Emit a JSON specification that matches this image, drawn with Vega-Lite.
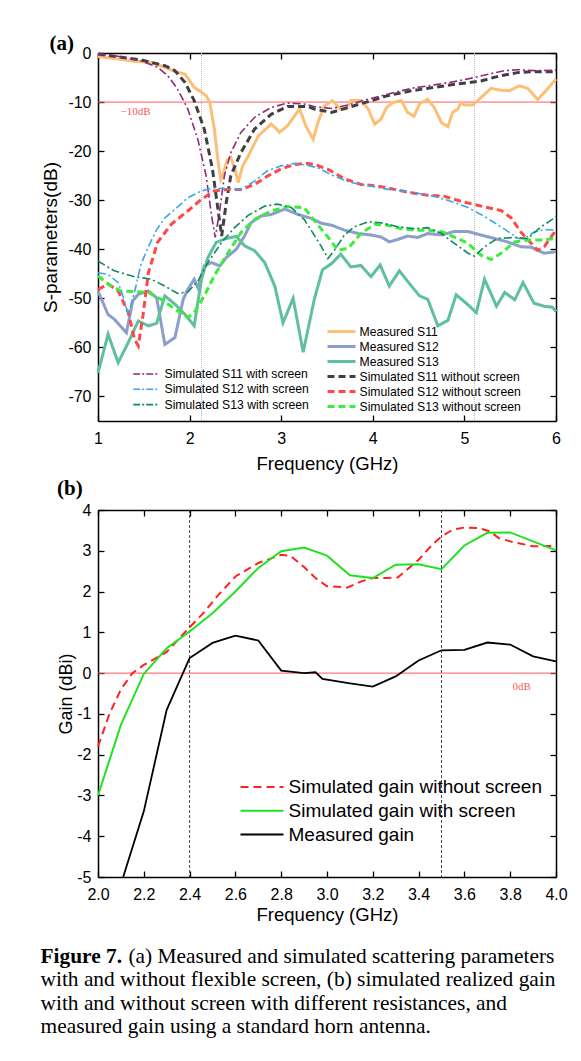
{
  "$schema": "https://vega.github.io/schema/vega-lite/v6.json",
  "background": "white",
  "padding": {"left": 40, "top": 33, "right": 5, "bottom": 5},
  "spacing": 5,
  "resolve": {"scale": {"color": "independent", "stroke": "independent"}, "legend": {"color": "independent", "stroke": "independent"}},
  "config": {
    "view": {"stroke": null},
    "font": "Liberation Sans",
    "axis": {"grid": false, "domainColor": "black", "domainWidth": 1.5, "tickColor": "black", "tickWidth": 1.3, "tickSize": -6, "labelFontSize": 16, "labelColor": "black", "labelFont": "Liberation Sans", "titleFont": "Liberation Sans", "titleFontWeight": "normal", "titleColor": "black", "labelFlush": false, "labelOverlap": false, "labelExpr": "replace(datum.label, '−', '-')"},
    "legend": {"labelFont": "Liberation Sans", "labelColor": "black", "padding": 0, "symbolType": "stroke", "title": null, "labelLimit": 0},
    "title": {"font": "Liberation Serif", "fontSize": 21, "fontWeight": "bold", "anchor": "start", "color": "black", "baseline": "alphabetic", "frame": "group"}
  },
  "vconcat": [
    {
      "width": 458, "height": 368,
      "title": {"text": "(a)", "dx": -48.5, "offset": -9, "frame": "group"},
      "layer": [
        {
          "data": {"values": [{"f": 2.13}, {"f": 5.11}]},
          "mark": {"type": "rule", "color": "#bdbdbd", "strokeWidth": 1, "strokeDash": [1, 1]},
          "encoding": {"x": {"field": "f", "type": "quantitative", "scale": {"domain": [1, 6], "nice": false, "zero": false}, "axis": {"orient": "top", "labels": false, "title": null, "values": [1, 2, 3, 4, 5, 6]}}}
        },
        {
          "data": {"values": [{"level": -10}]},
          "mark": {"type": "rule", "color": "#ff5a5a", "strokeWidth": 1},
          "encoding": {"y": {"field": "level", "type": "quantitative", "scale": {"domain": [-75, 0], "nice": false, "zero": false}, "axis": {"orient": "right", "labels": false, "title": null, "values": [-70, -60, -50, -40, -30, -20, -10, 0]}}}
        },
        {
          "data": {"values": [{"f": 1.41, "v": -12.1, "label": "−10dB"}]},
          "mark": {"type": "text", "font": "Liberation Serif", "fontSize": 11, "color": "#ff5a5a"},
          "encoding": {"x": {"field": "f", "type": "quantitative", "axis": null}, "y": {"field": "v", "type": "quantitative", "axis": null}, "text": {"field": "label"}}
        },
        {
          "data": {"values": [
            {"s":"Measured S11","f":1.0,"v":-0.7},{"s":"Measured S11","f":1.2,"v":-1.2},{"s":"Measured S11","f":1.4,"v":-1.7},{"s":"Measured S11","f":1.58,"v":-1.9},{"s":"Measured S11","f":1.73,"v":-2.9},{"s":"Measured S11","f":1.84,"v":-3.8},{"s":"Measured S11","f":1.95,"v":-4.3},{"s":"Measured S11","f":2.05,"v":-7},{"s":"Measured S11","f":2.13,"v":-8},{"s":"Measured S11","f":2.18,"v":-8.7},{"s":"Measured S11","f":2.22,"v":-10},{"s":"Measured S11","f":2.27,"v":-15.5},{"s":"Measured S11","f":2.31,"v":-22},{"s":"Measured S11","f":2.34,"v":-25.8},{"s":"Measured S11","f":2.37,"v":-24.5},{"s":"Measured S11","f":2.41,"v":-21.8},{"s":"Measured S11","f":2.45,"v":-21.3},{"s":"Measured S11","f":2.5,"v":-24},{"s":"Measured S11","f":2.53,"v":-26.4},{"s":"Measured S11","f":2.58,"v":-23},{"s":"Measured S11","f":2.64,"v":-21},{"s":"Measured S11","f":2.75,"v":-16.9},{"s":"Measured S11","f":2.89,"v":-14.5},{"s":"Measured S11","f":2.95,"v":-15.5},{"s":"Measured S11","f":2.98,"v":-16.2},{"s":"Measured S11","f":3.07,"v":-14.8},{"s":"Measured S11","f":3.2,"v":-11.4},{"s":"Measured S11","f":3.27,"v":-14.9},{"s":"Measured S11","f":3.35,"v":-17.6},{"s":"Measured S11","f":3.4,"v":-14.2},{"s":"Measured S11","f":3.47,"v":-10.8},{"s":"Measured S11","f":3.56,"v":-9.7},{"s":"Measured S11","f":3.64,"v":-11.4},{"s":"Measured S11","f":3.71,"v":-11.4},{"s":"Measured S11","f":3.76,"v":-9.7},{"s":"Measured S11","f":3.87,"v":-9.7},{"s":"Measured S11","f":3.95,"v":-11.4},{"s":"Measured S11","f":4.02,"v":-14.5},{"s":"Measured S11","f":4.09,"v":-13.5},{"s":"Measured S11","f":4.15,"v":-11.1},{"s":"Measured S11","f":4.22,"v":-10.1},{"s":"Measured S11","f":4.31,"v":-9.7},{"s":"Measured S11","f":4.38,"v":-12.1},{"s":"Measured S11","f":4.45,"v":-12.9},{"s":"Measured S11","f":4.51,"v":-10.4},{"s":"Measured S11","f":4.6,"v":-9.4},{"s":"Measured S11","f":4.67,"v":-11.1},{"s":"Measured S11","f":4.75,"v":-14.2},{"s":"Measured S11","f":4.82,"v":-15},{"s":"Measured S11","f":4.87,"v":-12.1},{"s":"Measured S11","f":4.93,"v":-11.4},{"s":"Measured S11","f":4.96,"v":-10.1},{"s":"Measured S11","f":5.0,"v":-10.6},{"s":"Measured S11","f":5.09,"v":-10.6},{"s":"Measured S11","f":5.18,"v":-9.1},{"s":"Measured S11","f":5.29,"v":-7.2},{"s":"Measured S11","f":5.4,"v":-7.6},{"s":"Measured S11","f":5.49,"v":-7.7},{"s":"Measured S11","f":5.6,"v":-6.7},{"s":"Measured S11","f":5.69,"v":-7.2},{"s":"Measured S11","f":5.8,"v":-9.5},{"s":"Measured S11","f":5.89,"v":-7.7},{"s":"Measured S11","f":6.0,"v":-5.3},
            {"s":"Measured S12","f":1.0,"v":-48.5},{"s":"Measured S12","f":1.11,"v":-53.3},{"s":"Measured S12","f":1.18,"v":-54.3},{"s":"Measured S12","f":1.31,"v":-57},{"s":"Measured S12","f":1.38,"v":-50.5},{"s":"Measured S12","f":1.44,"v":-49.2},{"s":"Measured S12","f":1.55,"v":-48.5},{"s":"Measured S12","f":1.64,"v":-49.9},{"s":"Measured S12","f":1.73,"v":-59.4},{"s":"Measured S12","f":1.84,"v":-58},{"s":"Measured S12","f":1.93,"v":-50.2},{"s":"Measured S12","f":1.98,"v":-48.2},{"s":"Measured S12","f":2.05,"v":-46.1},{"s":"Measured S12","f":2.09,"v":-47.8},{"s":"Measured S12","f":2.16,"v":-43.4},{"s":"Measured S12","f":2.24,"v":-42.7},{"s":"Measured S12","f":2.33,"v":-43.4},{"s":"Measured S12","f":2.4,"v":-41.7},{"s":"Measured S12","f":2.51,"v":-40},{"s":"Measured S12","f":2.6,"v":-37.3},{"s":"Measured S12","f":2.67,"v":-34.6},{"s":"Measured S12","f":2.78,"v":-33.2},{"s":"Measured S12","f":2.89,"v":-32.9},{"s":"Measured S12","f":3.04,"v":-31.8},{"s":"Measured S12","f":3.18,"v":-32.9},{"s":"Measured S12","f":3.33,"v":-33.7},{"s":"Measured S12","f":3.44,"v":-34.7},{"s":"Measured S12","f":3.55,"v":-35.1},{"s":"Measured S12","f":3.69,"v":-36.1},{"s":"Measured S12","f":3.84,"v":-36.8},{"s":"Measured S12","f":3.98,"v":-37.1},{"s":"Measured S12","f":4.09,"v":-37.5},{"s":"Measured S12","f":4.18,"v":-38.5},{"s":"Measured S12","f":4.27,"v":-38},{"s":"Measured S12","f":4.38,"v":-37.3},{"s":"Measured S12","f":4.49,"v":-37.6},{"s":"Measured S12","f":4.6,"v":-36.8},{"s":"Measured S12","f":4.75,"v":-37.1},{"s":"Measured S12","f":4.89,"v":-36.4},{"s":"Measured S12","f":5.04,"v":-36.4},{"s":"Measured S12","f":5.18,"v":-37.1},{"s":"Measured S12","f":5.33,"v":-37.8},{"s":"Measured S12","f":5.47,"v":-38.5},{"s":"Measured S12","f":5.62,"v":-39.5},{"s":"Measured S12","f":5.73,"v":-39.6},{"s":"Measured S12","f":5.87,"v":-40.8},{"s":"Measured S12","f":6.0,"v":-40.5},
            {"s":"Measured S13","f":1.0,"v":-65.2},{"s":"Measured S13","f":1.11,"v":-57.3},{"s":"Measured S13","f":1.22,"v":-63.1},{"s":"Measured S13","f":1.33,"v":-59},{"s":"Measured S13","f":1.44,"v":-54.6},{"s":"Measured S13","f":1.55,"v":-55.6},{"s":"Measured S13","f":1.64,"v":-55.1},{"s":"Measured S13","f":1.73,"v":-49.5},{"s":"Measured S13","f":1.84,"v":-51.2},{"s":"Measured S13","f":1.95,"v":-53.3},{"s":"Measured S13","f":2.05,"v":-55.6},{"s":"Measured S13","f":2.13,"v":-46.1},{"s":"Measured S13","f":2.2,"v":-41.7},{"s":"Measured S13","f":2.29,"v":-38.6},{"s":"Measured S13","f":2.4,"v":-37.8},{"s":"Measured S13","f":2.51,"v":-37.4},{"s":"Measured S13","f":2.6,"v":-39.3},{"s":"Measured S13","f":2.71,"v":-40.3},{"s":"Measured S13","f":2.82,"v":-42.7},{"s":"Measured S13","f":2.93,"v":-47.5},{"s":"Measured S13","f":3.02,"v":-55},{"s":"Measured S13","f":3.13,"v":-50},{"s":"Measured S13","f":3.24,"v":-61},{"s":"Measured S13","f":3.36,"v":-50.3},{"s":"Measured S13","f":3.45,"v":-44.2},{"s":"Measured S13","f":3.55,"v":-42.9},{"s":"Measured S13","f":3.65,"v":-41},{"s":"Measured S13","f":3.76,"v":-43.6},{"s":"Measured S13","f":3.87,"v":-43.3},{"s":"Measured S13","f":3.98,"v":-45.6},{"s":"Measured S13","f":4.08,"v":-43.2},{"s":"Measured S13","f":4.18,"v":-47.5},{"s":"Measured S13","f":4.29,"v":-44.4},{"s":"Measured S13","f":4.4,"v":-47},{"s":"Measured S13","f":4.51,"v":-49.5},{"s":"Measured S13","f":4.6,"v":-50.2},{"s":"Measured S13","f":4.71,"v":-55.6},{"s":"Measured S13","f":4.82,"v":-54.5},{"s":"Measured S13","f":4.91,"v":-49.3},{"s":"Measured S13","f":5.02,"v":-51},{"s":"Measured S13","f":5.13,"v":-52.9},{"s":"Measured S13","f":5.22,"v":-46.1},{"s":"Measured S13","f":5.35,"v":-51.6},{"s":"Measured S13","f":5.44,"v":-48.8},{"s":"Measured S13","f":5.55,"v":-50.3},{"s":"Measured S13","f":5.64,"v":-46.8},{"s":"Measured S13","f":5.76,"v":-51},{"s":"Measured S13","f":5.87,"v":-51.6},{"s":"Measured S13","f":5.96,"v":-51.8},{"s":"Measured S13","f":6.0,"v":-52.7}
          ]},
          "mark": {"type": "line", "strokeWidth": 3},
          "encoding": {
            "x": {"field": "f", "type": "quantitative", "scale": {"domain": [1, 6], "nice": false, "zero": false}, "axis": {"orient": "bottom", "title": "Frequency (GHz)", "titleFontSize": 18.5, "titlePadding": 8, "values": [1, 2, 3, 4, 5, 6], "labelPadding": 15}},
            "y": {"field": "v", "type": "quantitative", "scale": {"domain": [-75, 0], "nice": false, "zero": false}, "axis": {"orient": "left", "title": "S-parameters(dB)", "titleFontSize": 19, "titlePadding": 7, "values": [-70, -60, -50, -40, -30, -20, -10, 0], "labelPadding": 13}},
            "stroke": {"field": "s", "type": "nominal",
              "scale": {"domain": ["Measured S11", "Measured S12", "Measured S13", "Simulated S11 without screen", "Simulated S12 without screen", "Simulated S13 without screen"], "range": ["#FDBE78", "#8C9FCB", "#5FBF9E", "#404040", "#FF4848", "#3DEB3D"]},
              "legend": {"orient": "none", "legendX": 228, "legendY": 271, "symbolSize": 784, "symbolStrokeWidth": 3, "clipHeight": 15, "rowPadding": 0, "labelFontSize": 12.2, "labelOffset": 2.5,
                "encode": {"symbols": {"update": {"strokeDash": {"signal": "indexof(datum.value, 'without') >= 0 ? [7, 4] : [1, 0]"}}}}}}
          }
        },
        {
          "data": {"values": [
            {"s":"Simulated S11 without screen","f":1.0,"v":-0.2},{"s":"Simulated S11 without screen","f":1.47,"v":-1.4},{"s":"Simulated S11 without screen","f":1.73,"v":-2.6},{"s":"Simulated S11 without screen","f":1.84,"v":-3.6},{"s":"Simulated S11 without screen","f":1.95,"v":-6},{"s":"Simulated S11 without screen","f":2.05,"v":-9.7},{"s":"Simulated S11 without screen","f":2.16,"v":-15.5},{"s":"Simulated S11 without screen","f":2.25,"v":-23.7},{"s":"Simulated S11 without screen","f":2.31,"v":-31.9},{"s":"Simulated S11 without screen","f":2.35,"v":-37.3},{"s":"Simulated S11 without screen","f":2.4,"v":-30.5},{"s":"Simulated S11 without screen","f":2.45,"v":-25},{"s":"Simulated S11 without screen","f":2.56,"v":-20.3},{"s":"Simulated S11 without screen","f":2.71,"v":-15.5},{"s":"Simulated S11 without screen","f":2.89,"v":-12.5},{"s":"Simulated S11 without screen","f":3.07,"v":-10.9},{"s":"Simulated S11 without screen","f":3.29,"v":-10.9},{"s":"Simulated S11 without screen","f":3.36,"v":-11.4},{"s":"Simulated S11 without screen","f":3.55,"v":-12.1},{"s":"Simulated S11 without screen","f":3.73,"v":-11.1},{"s":"Simulated S11 without screen","f":3.95,"v":-9.9},{"s":"Simulated S11 without screen","f":4.16,"v":-8.7},{"s":"Simulated S11 without screen","f":4.42,"v":-7.7},{"s":"Simulated S11 without screen","f":4.67,"v":-7},{"s":"Simulated S11 without screen","f":4.93,"v":-6.3},{"s":"Simulated S11 without screen","f":5.18,"v":-5.7},{"s":"Simulated S11 without screen","f":5.4,"v":-4.6},{"s":"Simulated S11 without screen","f":5.58,"v":-4},{"s":"Simulated S11 without screen","f":5.76,"v":-3.8},{"s":"Simulated S11 without screen","f":6.0,"v":-3.8},
            {"s":"Simulated S12 without screen","f":1.0,"v":-48.2},{"s":"Simulated S12 without screen","f":1.11,"v":-47.1},{"s":"Simulated S12 without screen","f":1.22,"v":-48.5},{"s":"Simulated S12 without screen","f":1.33,"v":-52.9},{"s":"Simulated S12 without screen","f":1.4,"v":-58.4},{"s":"Simulated S12 without screen","f":1.44,"v":-59.7},{"s":"Simulated S12 without screen","f":1.49,"v":-53.6},{"s":"Simulated S12 without screen","f":1.55,"v":-44.8},{"s":"Simulated S12 without screen","f":1.65,"v":-38.6},{"s":"Simulated S12 without screen","f":1.8,"v":-34.9},{"s":"Simulated S12 without screen","f":1.98,"v":-32.2},{"s":"Simulated S12 without screen","f":2.13,"v":-29.8},{"s":"Simulated S12 without screen","f":2.27,"v":-28.1},{"s":"Simulated S12 without screen","f":2.42,"v":-27.8},{"s":"Simulated S12 without screen","f":2.56,"v":-27.8},{"s":"Simulated S12 without screen","f":2.71,"v":-26.8},{"s":"Simulated S12 without screen","f":2.85,"v":-25.1},{"s":"Simulated S12 without screen","f":3.0,"v":-23.6},{"s":"Simulated S12 without screen","f":3.15,"v":-22.7},{"s":"Simulated S12 without screen","f":3.29,"v":-22.5},{"s":"Simulated S12 without screen","f":3.36,"v":-22.7},{"s":"Simulated S12 without screen","f":3.51,"v":-23.7},{"s":"Simulated S12 without screen","f":3.69,"v":-25.6},{"s":"Simulated S12 without screen","f":3.87,"v":-26.8},{"s":"Simulated S12 without screen","f":4.05,"v":-27.1},{"s":"Simulated S12 without screen","f":4.24,"v":-27.8},{"s":"Simulated S12 without screen","f":4.42,"v":-28.5},{"s":"Simulated S12 without screen","f":4.6,"v":-29},{"s":"Simulated S12 without screen","f":4.78,"v":-29.2},{"s":"Simulated S12 without screen","f":4.96,"v":-30.2},{"s":"Simulated S12 without screen","f":5.11,"v":-30.9},{"s":"Simulated S12 without screen","f":5.25,"v":-31.5},{"s":"Simulated S12 without screen","f":5.4,"v":-32.1},{"s":"Simulated S12 without screen","f":5.51,"v":-33.6},{"s":"Simulated S12 without screen","f":5.62,"v":-36.6},{"s":"Simulated S12 without screen","f":5.69,"v":-38},{"s":"Simulated S12 without screen","f":5.8,"v":-40.2},{"s":"Simulated S12 without screen","f":5.87,"v":-39.5},{"s":"Simulated S12 without screen","f":6.0,"v":-36.1},
            {"s":"Simulated S13 without screen","f":1.0,"v":-45.4},{"s":"Simulated S13 without screen","f":1.11,"v":-47.1},{"s":"Simulated S13 without screen","f":1.25,"v":-48.5},{"s":"Simulated S13 without screen","f":1.4,"v":-48.6},{"s":"Simulated S13 without screen","f":1.55,"v":-48.8},{"s":"Simulated S13 without screen","f":1.69,"v":-50.2},{"s":"Simulated S13 without screen","f":1.84,"v":-52.2},{"s":"Simulated S13 without screen","f":1.98,"v":-53.9},{"s":"Simulated S13 without screen","f":2.05,"v":-52.9},{"s":"Simulated S13 without screen","f":2.16,"v":-49.5},{"s":"Simulated S13 without screen","f":2.27,"v":-45.4},{"s":"Simulated S13 without screen","f":2.42,"v":-40.7},{"s":"Simulated S13 without screen","f":2.56,"v":-36.6},{"s":"Simulated S13 without screen","f":2.71,"v":-33.9},{"s":"Simulated S13 without screen","f":2.89,"v":-32.2},{"s":"Simulated S13 without screen","f":3.07,"v":-31.3},{"s":"Simulated S13 without screen","f":3.25,"v":-31.5},{"s":"Simulated S13 without screen","f":3.36,"v":-34.1},{"s":"Simulated S13 without screen","f":3.51,"v":-37.5},{"s":"Simulated S13 without screen","f":3.62,"v":-40.2},{"s":"Simulated S13 without screen","f":3.73,"v":-39.8},{"s":"Simulated S13 without screen","f":3.87,"v":-36.8},{"s":"Simulated S13 without screen","f":4.02,"v":-34.9},{"s":"Simulated S13 without screen","f":4.16,"v":-35.1},{"s":"Simulated S13 without screen","f":4.31,"v":-35.8},{"s":"Simulated S13 without screen","f":4.45,"v":-36.1},{"s":"Simulated S13 without screen","f":4.6,"v":-36.1},{"s":"Simulated S13 without screen","f":4.75,"v":-36.4},{"s":"Simulated S13 without screen","f":4.89,"v":-37.5},{"s":"Simulated S13 without screen","f":5.04,"v":-38.8},{"s":"Simulated S13 without screen","f":5.18,"v":-41.2},{"s":"Simulated S13 without screen","f":5.29,"v":-42.1},{"s":"Simulated S13 without screen","f":5.4,"v":-40.8},{"s":"Simulated S13 without screen","f":5.55,"v":-38.5},{"s":"Simulated S13 without screen","f":5.69,"v":-38.1},{"s":"Simulated S13 without screen","f":5.84,"v":-38.1},{"s":"Simulated S13 without screen","f":6.0,"v":-37.8}
          ]},
          "mark": {"type": "line", "strokeWidth": 3, "strokeDash": [7, 4]},
          "encoding": {
            "x": {"field": "f", "type": "quantitative", "axis": null},
            "y": {"field": "v", "type": "quantitative", "axis": null},
            "stroke": {"field": "s", "type": "nominal",
              "scale": {"domain": ["Measured S11", "Measured S12", "Measured S13", "Simulated S11 without screen", "Simulated S12 without screen", "Simulated S13 without screen"], "range": ["#FDBE78", "#8C9FCB", "#5FBF9E", "#404040", "#FF4848", "#3DEB3D"]},
              "legend": {"orient": "none", "legendX": 228, "legendY": 271, "symbolSize": 784, "symbolStrokeWidth": 3, "clipHeight": 15, "rowPadding": 0, "labelFontSize": 12.2, "labelOffset": 2.5,
                "encode": {"symbols": {"update": {"strokeDash": {"signal": "indexof(datum.value, 'without') >= 0 ? [7, 4] : [1, 0]"}}}}}}
          }
        },
        {
          "data": {"values": [
            {"s":"Simulated S11 with screen","f":1.0,"v":-0.2},{"s":"Simulated S11 with screen","f":1.2,"v":-0.6},{"s":"Simulated S11 with screen","f":1.47,"v":-1.6},{"s":"Simulated S11 with screen","f":1.65,"v":-2.9},{"s":"Simulated S11 with screen","f":1.76,"v":-4.6},{"s":"Simulated S11 with screen","f":1.87,"v":-7.4},{"s":"Simulated S11 with screen","f":1.98,"v":-11.4},{"s":"Simulated S11 with screen","f":2.09,"v":-17.6},{"s":"Simulated S11 with screen","f":2.18,"v":-25},{"s":"Simulated S11 with screen","f":2.24,"v":-33.2},{"s":"Simulated S11 with screen","f":2.28,"v":-37.6},{"s":"Simulated S11 with screen","f":2.33,"v":-31.9},{"s":"Simulated S11 with screen","f":2.38,"v":-25},{"s":"Simulated S11 with screen","f":2.45,"v":-20.3},{"s":"Simulated S11 with screen","f":2.56,"v":-16.2},{"s":"Simulated S11 with screen","f":2.71,"v":-13.1},{"s":"Simulated S11 with screen","f":2.89,"v":-11.1},{"s":"Simulated S11 with screen","f":3.07,"v":-10.2},{"s":"Simulated S11 with screen","f":3.25,"v":-10.4},{"s":"Simulated S11 with screen","f":3.36,"v":-10.9},{"s":"Simulated S11 with screen","f":3.55,"v":-11.3},{"s":"Simulated S11 with screen","f":3.73,"v":-10.6},{"s":"Simulated S11 with screen","f":3.95,"v":-9.4},{"s":"Simulated S11 with screen","f":4.16,"v":-8.4},{"s":"Simulated S11 with screen","f":4.42,"v":-7.2},{"s":"Simulated S11 with screen","f":4.67,"v":-6.5},{"s":"Simulated S11 with screen","f":4.93,"v":-5.7},{"s":"Simulated S11 with screen","f":5.11,"v":-5},{"s":"Simulated S11 with screen","f":5.29,"v":-4.2},{"s":"Simulated S11 with screen","f":5.44,"v":-3.6},{"s":"Simulated S11 with screen","f":5.58,"v":-3.4},{"s":"Simulated S11 with screen","f":5.76,"v":-3.6},{"s":"Simulated S11 with screen","f":6.0,"v":-3.5},
            {"s":"Simulated S12 with screen","f":1.0,"v":-44.8},{"s":"Simulated S12 with screen","f":1.11,"v":-45.1},{"s":"Simulated S12 with screen","f":1.22,"v":-46.8},{"s":"Simulated S12 with screen","f":1.28,"v":-50},{"s":"Simulated S12 with screen","f":1.33,"v":-53.3},{"s":"Simulated S12 with screen","f":1.4,"v":-48.6},{"s":"Simulated S12 with screen","f":1.47,"v":-43},{"s":"Simulated S12 with screen","f":1.55,"v":-39.5},{"s":"Simulated S12 with screen","f":1.64,"v":-36},{"s":"Simulated S12 with screen","f":1.73,"v":-33.6},{"s":"Simulated S12 with screen","f":1.84,"v":-31.9},{"s":"Simulated S12 with screen","f":1.98,"v":-29.5},{"s":"Simulated S12 with screen","f":2.13,"v":-28.1},{"s":"Simulated S12 with screen","f":2.27,"v":-27.5},{"s":"Simulated S12 with screen","f":2.42,"v":-27.7},{"s":"Simulated S12 with screen","f":2.56,"v":-27.8},{"s":"Simulated S12 with screen","f":2.71,"v":-26.1},{"s":"Simulated S12 with screen","f":2.85,"v":-24},{"s":"Simulated S12 with screen","f":3.0,"v":-23},{"s":"Simulated S12 with screen","f":3.15,"v":-22.5},{"s":"Simulated S12 with screen","f":3.29,"v":-22.9},{"s":"Simulated S12 with screen","f":3.4,"v":-23.4},{"s":"Simulated S12 with screen","f":3.58,"v":-25.1},{"s":"Simulated S12 with screen","f":3.76,"v":-26.4},{"s":"Simulated S12 with screen","f":3.95,"v":-27},{"s":"Simulated S12 with screen","f":4.13,"v":-27.7},{"s":"Simulated S12 with screen","f":4.31,"v":-28.1},{"s":"Simulated S12 with screen","f":4.49,"v":-28.6},{"s":"Simulated S12 with screen","f":4.67,"v":-29.2},{"s":"Simulated S12 with screen","f":4.85,"v":-30.2},{"s":"Simulated S12 with screen","f":5.04,"v":-31.5},{"s":"Simulated S12 with screen","f":5.18,"v":-32.9},{"s":"Simulated S12 with screen","f":5.33,"v":-34.6},{"s":"Simulated S12 with screen","f":5.47,"v":-36.3},{"s":"Simulated S12 with screen","f":5.58,"v":-37.7},{"s":"Simulated S12 with screen","f":5.65,"v":-37.9},{"s":"Simulated S12 with screen","f":5.76,"v":-36.5},{"s":"Simulated S12 with screen","f":5.87,"v":-36},{"s":"Simulated S12 with screen","f":6.0,"v":-36.1},
            {"s":"Simulated S13 with screen","f":1.0,"v":-42.4},{"s":"Simulated S13 with screen","f":1.18,"v":-44.4},{"s":"Simulated S13 with screen","f":1.4,"v":-45.6},{"s":"Simulated S13 with screen","f":1.58,"v":-46.1},{"s":"Simulated S13 with screen","f":1.73,"v":-47.5},{"s":"Simulated S13 with screen","f":1.87,"v":-49},{"s":"Simulated S13 with screen","f":1.98,"v":-48.7},{"s":"Simulated S13 with screen","f":2.09,"v":-46.5},{"s":"Simulated S13 with screen","f":2.2,"v":-42.7},{"s":"Simulated S13 with screen","f":2.35,"v":-38.6},{"s":"Simulated S13 with screen","f":2.49,"v":-35.6},{"s":"Simulated S13 with screen","f":2.64,"v":-33.1},{"s":"Simulated S13 with screen","f":2.82,"v":-31.2},{"s":"Simulated S13 with screen","f":2.96,"v":-30.8},{"s":"Simulated S13 with screen","f":3.11,"v":-31.5},{"s":"Simulated S13 with screen","f":3.25,"v":-33.9},{"s":"Simulated S13 with screen","f":3.33,"v":-36.2},{"s":"Simulated S13 with screen","f":3.44,"v":-39.5},{"s":"Simulated S13 with screen","f":3.51,"v":-41.9},{"s":"Simulated S13 with screen","f":3.58,"v":-40.2},{"s":"Simulated S13 with screen","f":3.69,"v":-37.1},{"s":"Simulated S13 with screen","f":3.8,"v":-35.4},{"s":"Simulated S13 with screen","f":3.95,"v":-34.4},{"s":"Simulated S13 with screen","f":4.09,"v":-34.6},{"s":"Simulated S13 with screen","f":4.27,"v":-35.4},{"s":"Simulated S13 with screen","f":4.45,"v":-35.8},{"s":"Simulated S13 with screen","f":4.6,"v":-35.6},{"s":"Simulated S13 with screen","f":4.75,"v":-36.8},{"s":"Simulated S13 with screen","f":4.89,"v":-38.8},{"s":"Simulated S13 with screen","f":5.04,"v":-40.8},{"s":"Simulated S13 with screen","f":5.11,"v":-41.4},{"s":"Simulated S13 with screen","f":5.22,"v":-39.5},{"s":"Simulated S13 with screen","f":5.36,"v":-37.8},{"s":"Simulated S13 with screen","f":5.55,"v":-37.6},{"s":"Simulated S13 with screen","f":5.69,"v":-37.8},{"s":"Simulated S13 with screen","f":5.84,"v":-35.4},{"s":"Simulated S13 with screen","f":6.0,"v":-33.4}
          ]},
          "mark": {"type": "line", "strokeWidth": 1.6, "strokeDash": [8, 3, 2, 3]},
          "encoding": {
            "x": {"field": "f", "type": "quantitative", "axis": null},
            "y": {"field": "v", "type": "quantitative", "axis": null},
            "color": {"field": "s", "type": "nominal",
              "scale": {"domain": ["Simulated S11 with screen", "Simulated S12 with screen", "Simulated S13 with screen"], "range": ["#8E2A7C", "#3AA8E8", "#118A5B"]},
              "legend": {"orient": "none", "legendX": 34, "legendY": 313.5, "symbolSize": 655, "symbolStrokeWidth": 1.6, "symbolDash": [7, 2, 2, 2], "clipHeight": 15, "rowPadding": 0.3, "labelFontSize": 12.2, "labelOffset": 4.5}}
          }
        }
      ],
      "resolve": {"axis": {"x": "independent", "y": "independent"}}
    },
    {
      "width": 458, "height": 367,
      "title": {"text": "(b)", "dx": -41, "offset": 3, "frame": "group"},
      "layer": [
        {
          "data": {"values": [{"f": 2.4}, {"f": 3.5}]},
          "mark": {"type": "rule", "color": "#333333", "strokeWidth": 0.9, "strokeDash": [3, 2]},
          "encoding": {"x": {"field": "f", "type": "quantitative", "scale": {"domain": [2, 4], "nice": false, "zero": false}, "axis": {"orient": "top", "labels": false, "title": null, "values": [2, 2.2, 2.4, 2.6, 2.8, 3, 3.2, 3.4, 3.6, 3.8, 4]}}}
        },
        {
          "data": {"values": [{"level": 0}]},
          "mark": {"type": "rule", "color": "#ff5a5a", "strokeWidth": 1},
          "encoding": {"y": {"field": "level", "type": "quantitative", "scale": {"domain": [-5, 4], "nice": false, "zero": false}, "axis": {"orient": "right", "labels": false, "title": null, "values": [-5, -4, -3, -2, -1, 0, 1, 2, 3, 4]}}}
        },
        {
          "data": {"values": [{"f": 3.85, "v": -0.33, "label": "0dB"}]},
          "mark": {"type": "text", "font": "Liberation Serif", "fontSize": 11, "color": "#ff5a5a"},
          "encoding": {"x": {"field": "f", "type": "quantitative", "axis": null}, "y": {"field": "v", "type": "quantitative", "axis": null}, "text": {"field": "label"}}
        },
        {
          "data": {"values": [
            {"s":"Simulated gain without screen","f":2.0,"v":-1.8},{"s":"Simulated gain without screen","f":2.05,"v":-1.0},{"s":"Simulated gain without screen","f":2.1,"v":-0.4},{"s":"Simulated gain without screen","f":2.15,"v":0.0},{"s":"Simulated gain without screen","f":2.2,"v":0.2},{"s":"Simulated gain without screen","f":2.3,"v":0.52},{"s":"Simulated gain without screen","f":2.4,"v":1.12},{"s":"Simulated gain without screen","f":2.46,"v":1.47},{"s":"Simulated gain without screen","f":2.52,"v":1.88},{"s":"Simulated gain without screen","f":2.6,"v":2.37},{"s":"Simulated gain without screen","f":2.7,"v":2.7},{"s":"Simulated gain without screen","f":2.8,"v":2.9},{"s":"Simulated gain without screen","f":2.84,"v":2.88},{"s":"Simulated gain without screen","f":2.9,"v":2.6},{"s":"Simulated gain without screen","f":2.95,"v":2.33},{"s":"Simulated gain without screen","f":3.0,"v":2.13},{"s":"Simulated gain without screen","f":3.09,"v":2.1},{"s":"Simulated gain without screen","f":3.15,"v":2.25},{"s":"Simulated gain without screen","f":3.2,"v":2.33},{"s":"Simulated gain without screen","f":3.26,"v":2.33},{"s":"Simulated gain without screen","f":3.31,"v":2.35},{"s":"Simulated gain without screen","f":3.4,"v":2.78},{"s":"Simulated gain without screen","f":3.46,"v":3.15},{"s":"Simulated gain without screen","f":3.5,"v":3.35},{"s":"Simulated gain without screen","f":3.55,"v":3.52},{"s":"Simulated gain without screen","f":3.6,"v":3.57},{"s":"Simulated gain without screen","f":3.66,"v":3.56},{"s":"Simulated gain without screen","f":3.71,"v":3.48},{"s":"Simulated gain without screen","f":3.75,"v":3.31},{"s":"Simulated gain without screen","f":3.8,"v":3.23},{"s":"Simulated gain without screen","f":3.9,"v":3.11},{"s":"Simulated gain without screen","f":4.0,"v":3.12}
          ]},
          "mark": {"type": "line", "strokeWidth": 2, "strokeDash": [8, 5]},
          "encoding": {
            "x": {"field": "f", "type": "quantitative", "scale": {"domain": [2, 4], "nice": false, "zero": false}, "axis": {"orient": "bottom", "title": "Frequency (GHz)", "titleFontSize": 18.5, "titlePadding": 3, "values": [2, 2.2, 2.4, 2.6, 2.8, 3, 3.2, 3.4, 3.6, 3.8, 4], "format": ".1f", "labelPadding": 15}},
            "y": {"field": "v", "type": "quantitative", "scale": {"domain": [-5, 4], "nice": false, "zero": false}, "axis": {"orient": "left", "title": "Gain (dBi)", "titleFontSize": 18, "titlePadding": 1, "values": [-5, -4, -3, -2, -1, 0, 1, 2, 3, 4], "labelPadding": 13}},
            "color": {"field": "s", "type": "nominal",
              "scale": {"domain": ["Simulated gain without screen", "Simulated gain with screen", "Measured gain"], "range": ["#FF2020", "#22E022", "#000000"]},
              "legend": {"orient": "none", "legendX": 141.5, "legendY": 267, "symbolSize": 1849, "symbolStrokeWidth": 2, "clipHeight": 20, "rowPadding": 3.8, "labelFontSize": 19, "labelOffset": 4,
                "encode": {"symbols": {"update": {"strokeDash": {"signal": "datum.value === 'Simulated gain without screen' ? [8, 5] : [1, 0]"}}}}}}
          }
        },
        {
          "data": {"values": [
            {"s":"Simulated gain with screen","f":2.0,"v":-3.0},{"s":"Simulated gain with screen","f":2.1,"v":-1.27},{"s":"Simulated gain with screen","f":2.2,"v":-0.02},{"s":"Simulated gain with screen","f":2.3,"v":0.61},{"s":"Simulated gain with screen","f":2.4,"v":1.02},{"s":"Simulated gain with screen","f":2.5,"v":1.47},{"s":"Simulated gain with screen","f":2.6,"v":2.0},{"s":"Simulated gain with screen","f":2.7,"v":2.58},{"s":"Simulated gain with screen","f":2.8,"v":2.99},{"s":"Simulated gain with screen","f":2.9,"v":3.08},{"s":"Simulated gain with screen","f":3.0,"v":2.88},{"s":"Simulated gain with screen","f":3.1,"v":2.4},{"s":"Simulated gain with screen","f":3.2,"v":2.33},{"s":"Simulated gain with screen","f":3.3,"v":2.66},{"s":"Simulated gain with screen","f":3.4,"v":2.67},{"s":"Simulated gain with screen","f":3.5,"v":2.55},{"s":"Simulated gain with screen","f":3.6,"v":3.13},{"s":"Simulated gain with screen","f":3.7,"v":3.44},{"s":"Simulated gain with screen","f":3.8,"v":3.45},{"s":"Simulated gain with screen","f":3.9,"v":3.23},{"s":"Simulated gain with screen","f":4.0,"v":3.01}
          ]},
          "mark": {"type": "line", "strokeWidth": 2},
          "encoding": {
            "x": {"field": "f", "type": "quantitative", "axis": null},
            "y": {"field": "v", "type": "quantitative", "axis": null},
            "color": {"field": "s", "type": "nominal",
              "scale": {"domain": ["Simulated gain without screen", "Simulated gain with screen", "Measured gain"], "range": ["#FF2020", "#22E022", "#000000"]},
              "legend": {"orient": "none", "legendX": 141.5, "legendY": 267, "symbolSize": 1849, "symbolStrokeWidth": 2, "clipHeight": 20, "rowPadding": 3.8, "labelFontSize": 19, "labelOffset": 4,
                "encode": {"symbols": {"update": {"strokeDash": {"signal": "datum.value === 'Simulated gain without screen' ? [8, 5] : [1, 0]"}}}}}}
          }
        },
        {
          "data": {"values": [
            {"s":"Measured gain","f":2.11,"v":-5.0},{"s":"Measured gain","f":2.2,"v":-3.39},{"s":"Measured gain","f":2.3,"v":-0.9},{"s":"Measured gain","f":2.4,"v":0.37},{"s":"Measured gain","f":2.5,"v":0.74},{"s":"Measured gain","f":2.6,"v":0.92},{"s":"Measured gain","f":2.7,"v":0.8},{"s":"Measured gain","f":2.8,"v":0.06},{"s":"Measured gain","f":2.9,"v":0.0},{"s":"Measured gain","f":2.95,"v":0.02},{"s":"Measured gain","f":2.98,"v":-0.14},{"s":"Measured gain","f":3.1,"v":-0.25},{"s":"Measured gain","f":3.2,"v":-0.33},{"s":"Measured gain","f":3.3,"v":-0.08},{"s":"Measured gain","f":3.4,"v":0.31},{"s":"Measured gain","f":3.5,"v":0.56},{"s":"Measured gain","f":3.6,"v":0.57},{"s":"Measured gain","f":3.7,"v":0.75},{"s":"Measured gain","f":3.8,"v":0.7},{"s":"Measured gain","f":3.9,"v":0.41},{"s":"Measured gain","f":4.0,"v":0.29}
          ]},
          "mark": {"type": "line", "strokeWidth": 1.8},
          "encoding": {
            "x": {"field": "f", "type": "quantitative", "axis": null},
            "y": {"field": "v", "type": "quantitative", "axis": null},
            "color": {"field": "s", "type": "nominal",
              "scale": {"domain": ["Simulated gain without screen", "Simulated gain with screen", "Measured gain"], "range": ["#FF2020", "#22E022", "#000000"]},
              "legend": {"orient": "none", "legendX": 141.5, "legendY": 267, "symbolSize": 1849, "symbolStrokeWidth": 2, "clipHeight": 20, "rowPadding": 3.8, "labelFontSize": 19, "labelOffset": 4,
                "encode": {"symbols": {"update": {"strokeDash": {"signal": "datum.value === 'Simulated gain without screen' ? [8, 5] : [1, 0]"}}}}}}
          }
        }
      ],
      "resolve": {"axis": {"x": "independent", "y": "independent"}}
    },
    {
      "width": 458, "height": 94,
      "layer": [
        {
          "data": {"values": [{"line": 1, "t": "Figure 7."}]},
          "mark": {"type": "text", "font": "Liberation Serif", "fontSize": 21.4, "fontWeight": "bold", "align": "left", "baseline": "middle", "dx": -57.5, "dy": 15.75, "color": "black"},
          "encoding": {"y": {"field": "line", "type": "ordinal", "axis": null, "scale": {"domain": [1, 2, 3, 4]}}, "x": {"value": 0}, "text": {"field": "t"}}
        },
        {
          "data": {"values": [{"line": 1, "t": "(a) Measured and simulated scattering parameters"}]},
          "mark": {"type": "text", "font": "Liberation Serif", "fontSize": 21.4, "align": "left", "baseline": "middle", "dx": 30.5, "dy": 15.75, "color": "black"},
          "encoding": {"y": {"field": "line", "type": "ordinal", "axis": null, "scale": {"domain": [1, 2, 3, 4]}}, "x": {"value": 0}, "text": {"field": "t"}}
        },
        {
          "data": {"values": [
            {"line": 2, "t": "with and without flexible screen, (b) simulated realized gain"},
            {"line": 3, "t": "with and without screen with different resistances, and"},
            {"line": 4, "t": "measured gain using a standard horn antenna."}
          ]},
          "mark": {"type": "text", "font": "Liberation Serif", "fontSize": 21.4, "align": "left", "baseline": "middle", "dx": -57.5, "dy": 15.75, "color": "black"},
          "encoding": {"y": {"field": "line", "type": "ordinal", "axis": null, "scale": {"domain": [1, 2, 3, 4]}}, "x": {"value": 0}, "text": {"field": "t"}}
        }
      ]
    }
  ]
}
